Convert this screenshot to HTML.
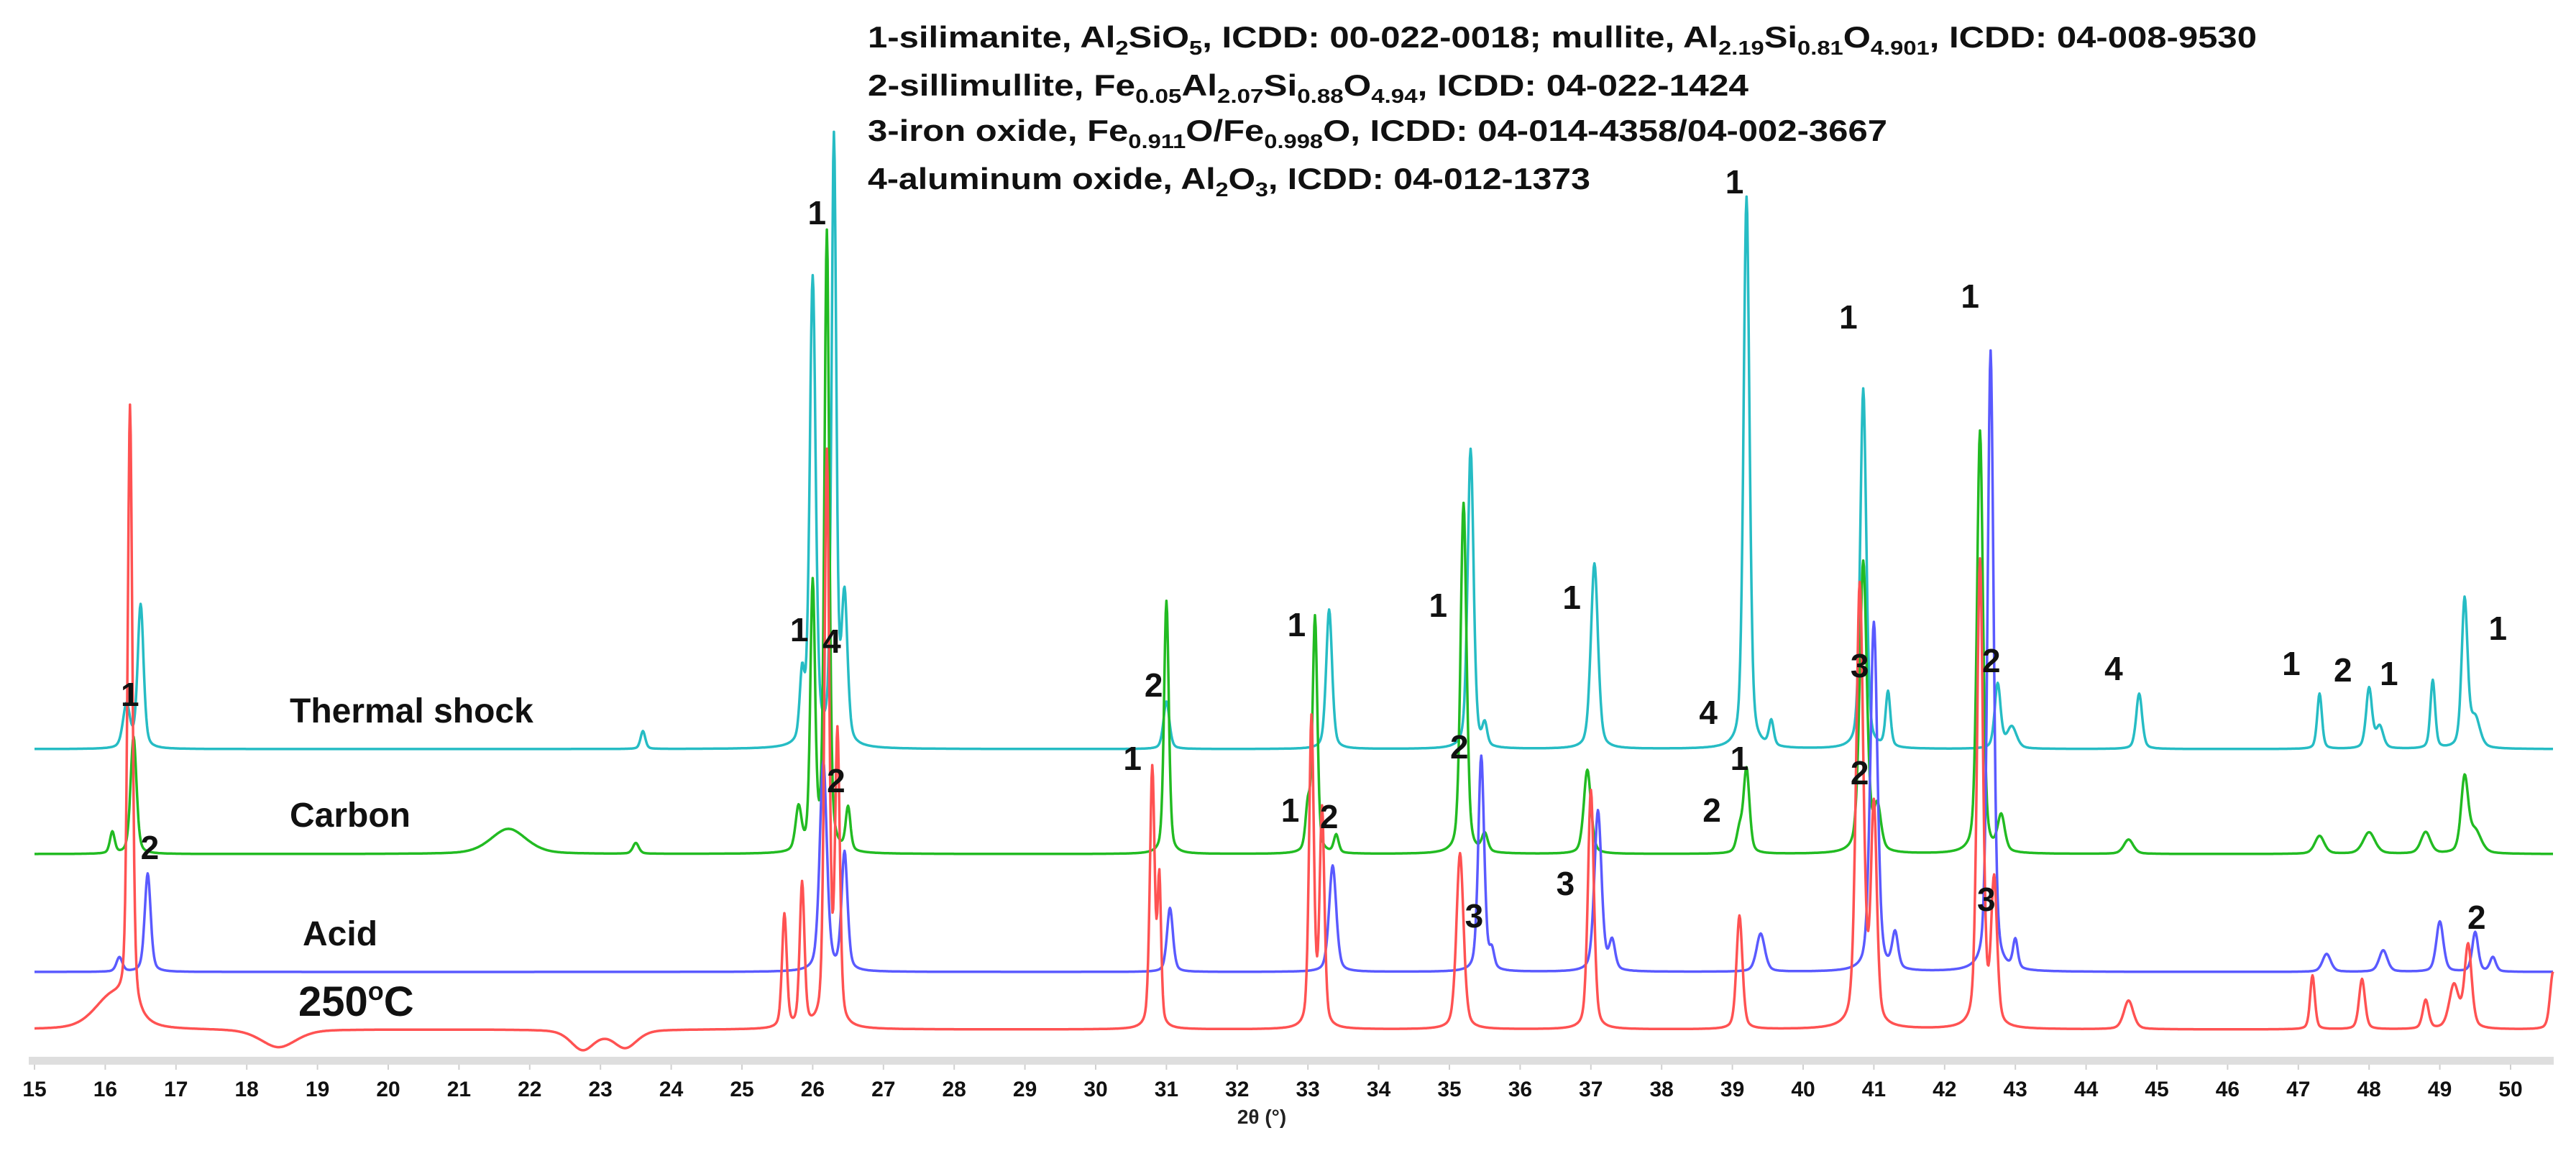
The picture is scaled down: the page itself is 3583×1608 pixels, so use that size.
<!DOCTYPE html>
<html><head><meta charset="utf-8"><style>
html,body{margin:0;padding:0;background:#fff;}
svg{display:block;}
text{font-family:"Liberation Sans",sans-serif;}
</style></head><body>
<svg id="chart" width="3583" height="1608" viewBox="0 0 3583 1608" xmlns="http://www.w3.org/2000/svg">
<g id="legend" font-weight="bold" font-size="42" fill="#111">
<text x="1207" y="66" textLength="1932" lengthAdjust="spacingAndGlyphs">1-silimanite, Al<tspan font-size="28" dy="10">2</tspan><tspan dy="-10">SiO</tspan><tspan font-size="28" dy="10">5</tspan><tspan dy="-10">, ICDD: 00-022-0018; mullite, Al</tspan><tspan font-size="28" dy="10">2.19</tspan><tspan dy="-10">Si</tspan><tspan font-size="28" dy="10">0.81</tspan><tspan dy="-10">O</tspan><tspan font-size="28" dy="10">4.901</tspan><tspan dy="-10">, ICDD: 04-008-9530</tspan></text>
<text x="1207" y="133" textLength="1225" lengthAdjust="spacingAndGlyphs">2-sillimullite, Fe<tspan font-size="28" dy="10">0.05</tspan><tspan dy="-10">Al</tspan><tspan font-size="28" dy="10">2.07</tspan><tspan dy="-10">Si</tspan><tspan font-size="28" dy="10">0.88</tspan><tspan dy="-10">O</tspan><tspan font-size="28" dy="10">4.94</tspan><tspan dy="-10">, ICDD: 04-022-1424</tspan></text>
<text x="1207" y="196" textLength="1418" lengthAdjust="spacingAndGlyphs">3-iron oxide, Fe<tspan font-size="28" dy="10">0.911</tspan><tspan dy="-10">O/Fe</tspan><tspan font-size="28" dy="10">0.998</tspan><tspan dy="-10">O, ICDD: 04-014-4358/04-002-3667</tspan></text>
<text x="1207" y="263" textLength="1005" lengthAdjust="spacingAndGlyphs">4-aluminum oxide, Al<tspan font-size="28" dy="10">2</tspan><tspan dy="-10">O</tspan><tspan font-size="28" dy="10">3</tspan><tspan dy="-10">, ICDD: 04-012-1373</tspan></text>
</g>
<rect x="40" y="1470" width="3512" height="11" fill="#dedede"/>
<g id="ticks"></g>
<g id="series"></g>
<g id="labels" font-weight="bold" fill="#111">
<text x="403" y="1005" font-size="48">Thermal shock</text>
<text x="403" y="1150" font-size="48">Carbon</text>
<text x="421" y="1315" font-size="48">Acid</text>
<text x="415" y="1413" font-size="58">250<tspan font-size="36" dy="-22">o</tspan><tspan dy="22">C</tspan></text>
</g>
<g id="annos"></g>
<text x="1755" y="1563" font-size="28" font-weight="bold" text-anchor="middle" fill="#222">2θ (°)</text>
</svg>
<script>
// axis
const xTicks=[15,16,17,18,19,20,21,22,23,24,25,26,27,28,29,30,31,32,33,34,35,36,37,38,39,40,41,42,43,44,45,46,47,48,49,50];
const xMin=15, xMax=50.6;
// series peaks: positions (deg), intensities (a.u.), widths (deg)
const cyanPos=[16.3,16.5,23.6,25.85,26.0,26.3,26.45,31.0,33.3,35.3,35.5,37.05,39.2,39.55,40.85,41.2,42.75,42.95,44.75,47.3,48.0,48.15,48.9,49.35,49.5];
const cyanInt=[60,200,25,90,650,843,200,66,194,417,30,258,768,35,501,77,90,30,77,77,84,30,95,206,40];
const cyanW=[0.06,0.05,0.04,0.04,0.05,0.04,0.05,0.05,0.05,0.05,0.04,0.06,0.05,0.04,0.05,0.04,0.05,0.08,0.05,0.04,0.05,0.06,0.04,0.05,0.08];
const greenPos=[16.1,16.4,21.7,23.5,25.8,26.0,26.2,26.5,31.0,33.0,33.1,33.4,35.2,35.5,36.95,39.1,39.2,40.85,41.05,42.5,42.8,44.6,47.3,48.0,48.8,49.35,49.5];
const greenInt=[30,163,35,15,60,369,862,60,352,60,328,25,488,25,117,30,117,406,60,588,50,20,25,30,30,103,30];
const greenW=[0.04,0.05,0.3,0.05,0.05,0.04,0.04,0.04,0.04,0.04,0.04,0.04,0.05,0.05,0.06,0.05,0.05,0.06,0.06,0.05,0.06,0.08,0.08,0.1,0.08,0.06,0.1];
const bluePos=[16.2,16.6,26.15,26.45,31.05,33.35,35.45,35.6,37.1,37.3,39.4,41.0,41.3,42.65,43.0,47.4,48.2,49.0,49.5,49.75];
const blueInt=[20,137,292,164,89,148,300,25,224,40,53,486,50,864,40,25,30,70,55,20];
const blueW=[0.05,0.05,0.06,0.05,0.05,0.06,0.05,0.04,0.06,0.05,0.07,0.06,0.05,0.05,0.04,0.07,0.07,0.06,0.05,0.05];
const redPos=[16.1,16.35,18.45,22.75,23.35,25.6,25.85,26.2,26.35,30.8,30.9,33.05,33.2,35.15,37.0,39.1,40.8,41.0,42.5,42.7,44.6,47.2,47.9,48.8,49.2,49.4,50.6];
const redInt=[45,842,-25,-28,-25,158,200,796,400,361,200,430,300,245,333,158,615,300,650,200,40,75,70,40,60,116,80];
const redW=[0.3,0.04,0.3,0.2,0.2,0.04,0.04,0.04,0.04,0.04,0.03,0.04,0.04,0.06,0.05,0.05,0.06,0.05,0.05,0.05,0.08,0.04,0.05,0.05,0.08,0.06,0.05];
const baselines=[1042,1188,1352,1432];
const seriesNames=['thermal-shock','carbon','acid','250c'];
const colors=['#26bcc4','#22bb22','#5a5aff','#ff5252'];
// annotations: label, position (deg), y (px)
const annoText=['1','2','1','1','4','2','2','1','1','1','2','1','2','3','1','3','1','4','1','2','1','3','2','1','2','3','4','1','2','1','1','2'];
const annoDeg=[16.35,16.63,26.06,25.81,26.27,26.33,30.82,32.84,30.52,32.75,33.30,34.84,35.14,35.35,36.73,36.64,39.03,38.66,39.10,38.71,40.64,40.80,40.80,42.36,42.66,42.59,44.39,46.90,47.63,48.28,49.82,49.52];
const annoY=[966,1179,296,876,892,1086,953,869,1055,1127,1136,842,1039,1274,831,1229,253,991,1055,1127,441,926,1075,412,919,1251,930,923,932,937,874,1276];

const NS='http://www.w3.org/2000/svg';
function xs(v){return 48+(v-15)*98.4;}
function ys(base,v){return base-v;}
const tg=document.getElementById('ticks');
xTicks.forEach(t=>{
  const l=document.createElementNS(NS,'line');
  
  
  l.setAttribute('x1',xs(t));l.setAttribute('x2',xs(t));l.setAttribute('y1',1481);l.setAttribute('y2',1488);
  l.setAttribute('stroke','#d0d0d0');l.setAttribute('stroke-width','2');
  tg.appendChild(l);
  const tx=document.createElementNS(NS,'text');
  
  
  tx.setAttribute('x',xs(t));tx.setAttribute('y',1525);
  tx.setAttribute('text-anchor','middle');tx.setAttribute('font-size','30');tx.setAttribute('font-weight','bold');
  tx.setAttribute('fill','#111');
  tx.setAttribute('style','font-family:"Liberation Sans Narrow","Liberation Sans",sans-serif');
  tx.textContent=t;
  tg.appendChild(tx);
});
const sets=[[cyanPos,cyanInt,cyanW],[greenPos,greenInt,greenW],[bluePos,blueInt,blueW],[redPos,redInt,redW]];
const sg=document.getElementById('series');
sets.forEach((s,i)=>{
  const [P,I,W]=s;let d='';
  for(let k=0;k<=3560;k++){
    const x=xMin+k*0.01; if(x>xMax) break;
    let v=0;
    for(let j=0;j<P.length;j++){
      const u=(x-P[j])/W[j];
      v+=I[j]*(0.6*Math.exp(-0.693*u*u)+0.4/(1+u*u));
    }
    d+=(k?'L':'M')+xs(x).toFixed(1)+' '+ys(baselines[i],v).toFixed(1);
  }
  const p=document.createElementNS(NS,'path');
  
  
  p.setAttribute('d',d);p.setAttribute('fill','none');p.setAttribute('stroke',colors[i]);
  p.setAttribute('stroke-width','3.5');p.setAttribute('stroke-linejoin','round');
  sg.appendChild(p);
});
const ag=document.getElementById('annos');
annoText.forEach((t,i)=>{
  const tx=document.createElementNS(NS,'text');
  
  
  tx.setAttribute('x',xs(annoDeg[i]));tx.setAttribute('y',annoY[i]+16);
  tx.setAttribute('text-anchor','middle');tx.setAttribute('font-size','46');tx.setAttribute('font-weight','bold');
  tx.setAttribute('fill','#111');
  tx.textContent=t;
  ag.appendChild(tx);
});
</script>
</body></html>
